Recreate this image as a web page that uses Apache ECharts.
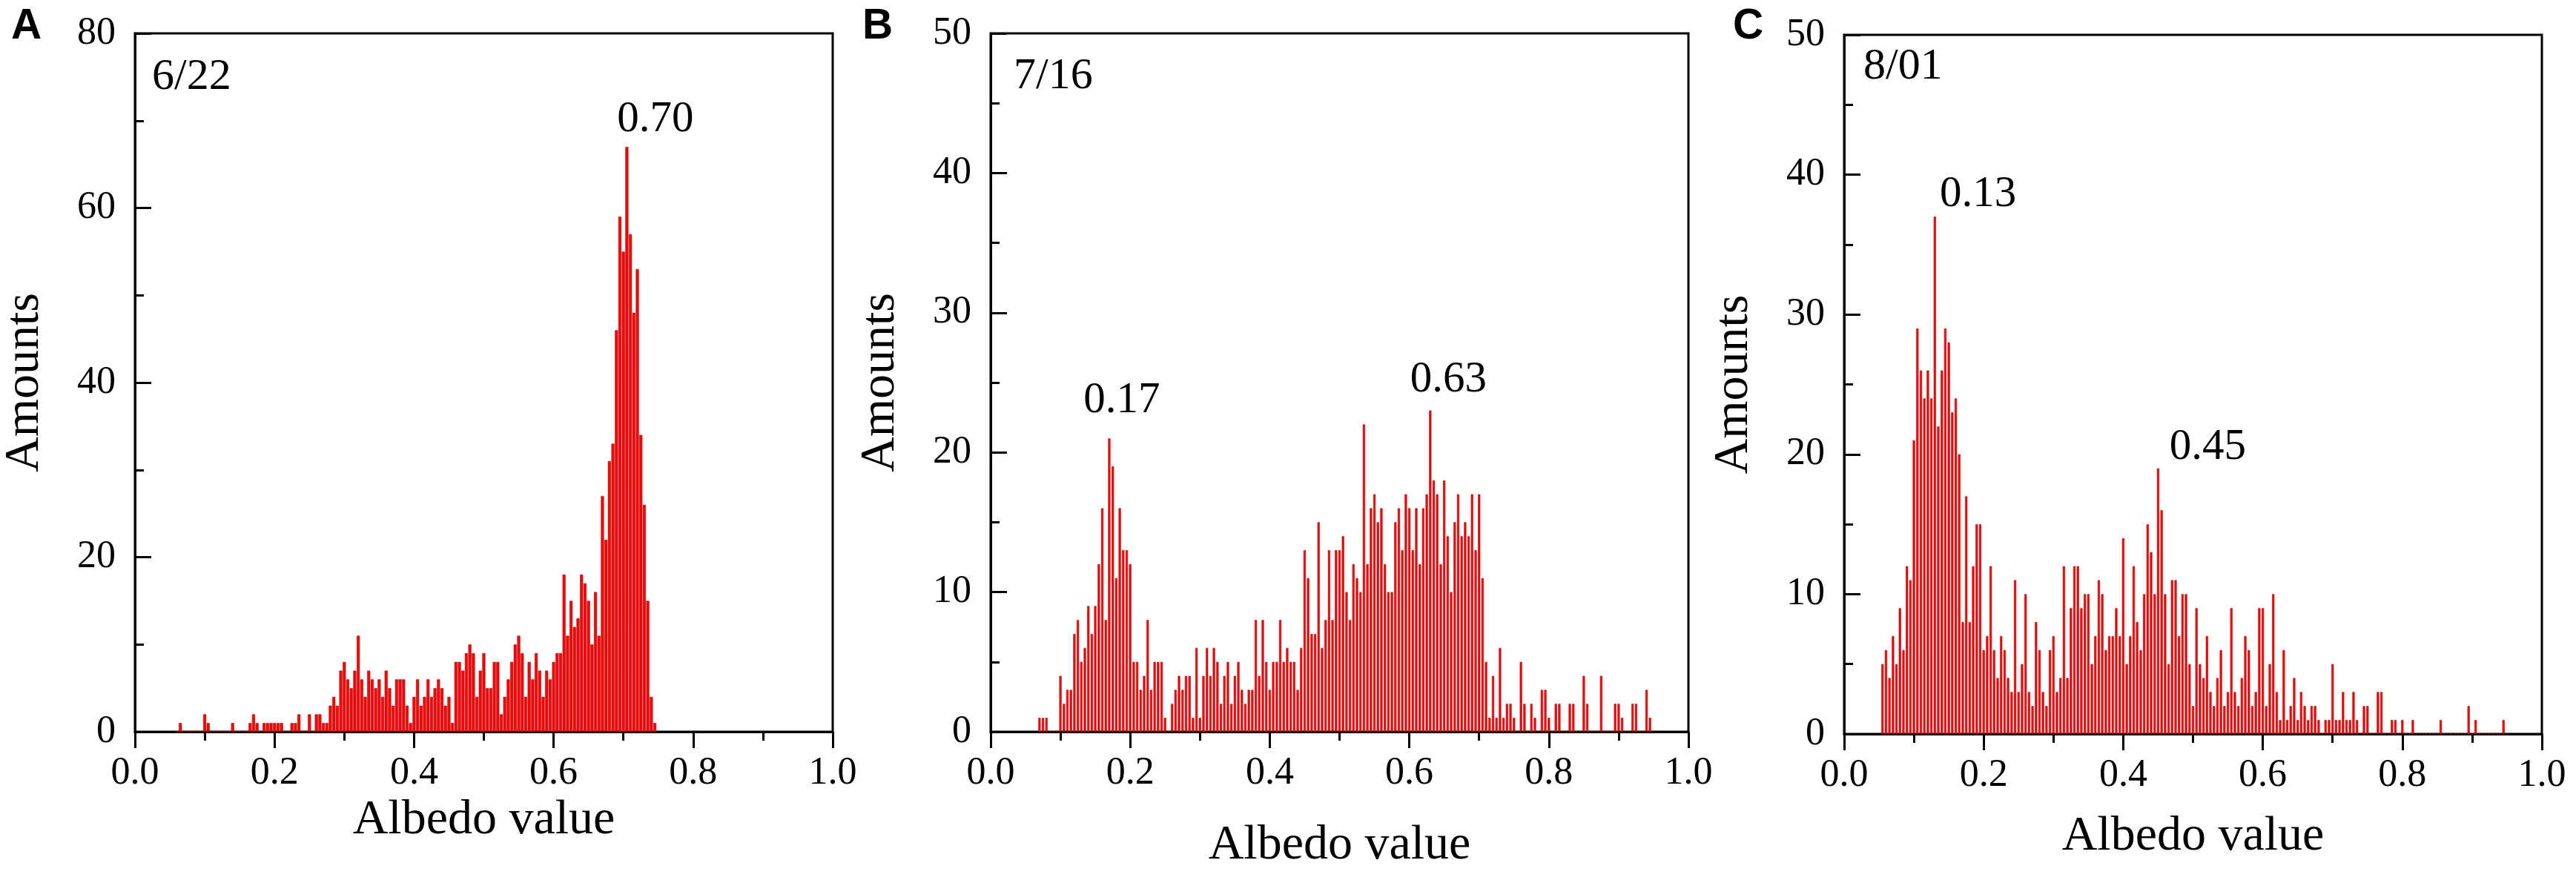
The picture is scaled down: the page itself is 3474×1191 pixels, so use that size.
<!DOCTYPE html>
<html>
<head>
<meta charset="utf-8">
<script src="https://cdn.jsdelivr.net/npm/echarts@6/dist/echarts.min.js"></script>
<style>
html, body { margin: 0; padding: 0; background: #fff; }
#main { width: 3474px; height: 1191px; }
</style>
</head>
<body>
<div id="main"></div>
<script>
var BIN = 0.005;

var startA = 0.060;
var countsA = [
    0, 1, 0, 0, 0, 0, 0, 0, 2, 1,
    0, 0, 0, 0, 0, 0, 1, 0, 0, 0,
    0, 1, 2, 1, 0, 1, 1, 1, 1, 1,
    1, 0, 0, 1, 1, 2, 0, 0, 2, 0,
    2, 2, 1, 1, 3, 4, 3, 7, 8, 6,
    5, 7, 11, 6, 4, 7, 6, 5, 6, 4,
    7, 5, 3, 6, 6, 6, 3, 1, 4, 6,
    3, 4, 6, 4, 5, 6, 5, 3, 4, 1,
    8, 8, 7, 9, 10, 9, 4, 7, 9, 5,
    5, 8, 8, 2, 4, 6, 8, 10, 11, 9,
    4, 8, 6, 9, 7, 4, 7, 6, 8, 9,
    9, 18, 11, 15, 12, 13, 18, 17, 15, 10,
    16, 11, 27, 22, 31, 33, 46, 59, 55, 67,
    57, 48, 53, 34, 26, 15, 4, 1
];

var startB = 0.070;
var countsB = [
    1, 1, 1, 0, 0, 0, 4, 2, 3, 3,
    7, 8, 5, 6, 9, 7, 9, 12, 16, 8,
    21, 19, 11, 16, 13, 13, 12, 5, 5, 3,
    4, 8, 3, 5, 5, 5, 1, 0, 2, 3,
    4, 3, 4, 4, 1, 6, 1, 4, 6, 4,
    6, 5, 2, 4, 5, 2, 4, 5, 3, 2,
    3, 3, 8, 4, 8, 5, 3, 5, 5, 8,
    5, 6, 5, 5, 3, 6, 13, 11, 7, 7,
    15, 6, 8, 13, 8, 13, 13, 14, 10, 8,
    12, 11, 10, 22, 12, 16, 17, 15, 16, 12,
    10, 10, 15, 16, 13, 17, 16, 13, 16, 12,
    16, 17, 23, 18, 17, 12, 18, 14, 10, 15,
    17, 14, 15, 14, 17, 13, 17, 11, 5, 1,
    4, 1, 6, 1, 2, 2, 1, 0, 5, 2,
    0, 2, 1, 0, 3, 3, 1, 0, 2, 2,
    0, 0, 2, 2, 0, 0, 4, 2, 0, 0,
    0, 4, 0, 0, 0, 2, 2, 1, 0, 0,
    2, 2, 0, 0, 3, 1
];

var startC = 0.055;
var countsC = [
    5, 6, 4, 7, 5, 9, 6, 12, 11, 21,
    29, 26, 24, 26, 24, 37, 22, 26, 29, 28,
    23, 24, 20, 8, 17, 8, 12, 15, 15, 6,
    7, 12, 6, 4, 7, 6, 4, 3, 11, 3,
    5, 10, 3, 2, 8, 6, 3, 2, 6, 7,
    3, 4, 12, 4, 9, 12, 12, 9, 10, 10,
    5, 7, 11, 10, 6, 7, 7, 9, 7, 14,
    5, 7, 12, 8, 6, 10, 15, 13, 10, 19,
    16, 10, 5, 11, 11, 7, 10, 10, 5, 2,
    9, 5, 4, 7, 3, 2, 4, 6, 2, 3,
    9, 3, 2, 4, 7, 6, 2, 3, 9, 9,
    2, 5, 10, 3, 1, 6, 1, 2, 4, 1,
    3, 2, 1, 2, 2, 1, 0, 1, 1, 5,
    1, 1, 3, 1, 1, 3, 1, 0, 2, 2,
    0, 0, 3, 3, 0, 0, 1, 1, 0, 1,
    0, 0, 1, 0, 0, 0, 0, 0, 0, 0,
    1, 0, 0, 0, 0, 0, 0, 0, 2, 0,
    1, 0, 0, 0, 0, 0, 0, 0, 1
];

var panelLetters = ['A', 'B', 'C'];
var dateLabels = ['6/22', '7/16', '8/01'];
var yMax = [80, 50, 50];
var yStep = [20, 10, 10];
// peak annotations: [albedo, amount, text]
var peaksA = [[0.746, 70.1, '0.70']];
var peaksB = [[0.188, 23.7, '0.17'], [0.656, 25.2, '0.63']];
var peaksC = [[0.192, 38.6, '0.13'], [0.521, 20.5, '0.45']];
// where the date text sits, in data units
var dateAt = [[0.0245, 75.0], [0.033, 46.9], [0.0276, 47.7]];

var SERIF = '"Liberation Serif", "Times New Roman", serif';

function toPairs(start, counts) {
    return counts.map(function (c, i) {
        return [+(start + i * BIN).toFixed(4), c];
    });
}

var grids = [
    { left: 182, top: 45, width: 941, height: 942 },
    { left: 1336, top: 45, width: 941, height: 942 },
    { left: 2487, top: 47, width: 941, height: 943 }
];
var xNameGap = [80, 121, 106];

var myChart = echarts.init(document.getElementById('main'), null, { renderer: 'canvas' });

var option = {
    backgroundColor: '#fff',
    animation: false,
    grid: grids.map(function (g) {
        return {
            left: g.left, top: g.top, width: g.width, height: g.height,
            show: true, borderColor: '#000', borderWidth: 3, backgroundColor: 'transparent'
        };
    }),
    xAxis: [0, 1, 2].map(function (i) {
        return {
            type: 'value',
            gridIndex: i,
            min: 0,
            max: 1,
            interval: 0.2,
            name: 'Albedo value',
            nameLocation: 'middle',
            nameGap: xNameGap[i],
            nameTextStyle: { fontFamily: SERIF, fontSize: 66, color: '#000' },
            axisLine: { show: true, onZero: false, lineStyle: { color: '#000', width: 3 } },
            axisTick: { show: true, inside: false, length: 22, lineStyle: { color: '#000', width: 3 } },
            minorTick: { show: true, splitNumber: 2, length: 12, lineStyle: { color: '#000', width: 3 } },
            axisLabel: {
                show: true, margin: 30, fontFamily: SERIF, fontSize: 52, color: '#000',
                formatter: function (v) { return v.toFixed(1); }
            },
            splitLine: { show: false },
            minorSplitLine: { show: false }
        };
    }),
    yAxis: [0, 1, 2].map(function (i) {
        return {
            type: 'value',
            gridIndex: i,
            min: 0,
            max: yMax[i],
            interval: yStep[i],
            name: 'Amounts',
            nameLocation: 'middle',
            nameGap: 115,
            nameTextStyle: { fontFamily: SERIF, fontSize: 66, color: '#000' },
            axisLine: { show: true, lineStyle: { color: '#000', width: 3 } },
            axisTick: { show: true, inside: true, length: 22, lineStyle: { color: '#000', width: 3 } },
            minorTick: { show: true, splitNumber: 2, length: 12, lineStyle: { color: '#000', width: 3 } },
            axisLabel: { show: true, margin: 26, fontFamily: SERIF, fontSize: 52, color: '#000' },
            splitLine: { show: false },
            minorSplitLine: { show: false }
        };
    }),
    series: [
        {
            type: 'bar', xAxisIndex: 0, yAxisIndex: 0,
            data: toPairs(startA, countsA),
            barWidth: 4.2,
            itemStyle: { color: '#ff0000', borderColor: '#a31515', borderWidth: 0.6 }
        },
        {
            type: 'bar', xAxisIndex: 1, yAxisIndex: 1,
            data: toPairs(startB, countsB),
            barWidth: 3.2,
            itemStyle: { color: '#ff0000', borderColor: '#a31515', borderWidth: 0.6 }
        },
        {
            type: 'bar', xAxisIndex: 2, yAxisIndex: 2,
            data: toPairs(startC, countsC),
            barWidth: 3.2,
            itemStyle: { color: '#ff0000', borderColor: '#a31515', borderWidth: 0.6 }
        }
    ]
};

myChart.setOption(option);

// text inside the plots, placed from data coordinates
var graphics = [];
var peakSets = [peaksA, peaksB, peaksC];
for (var i = 0; i < 3; i++) {
    var d = myChart.convertToPixel({ gridIndex: i }, dateAt[i]);
    graphics.push({
        type: 'text', x: d[0], y: d[1],
        style: { text: dateLabels[i], font: '60px ' + SERIF, fill: '#000', textAlign: 'left', textVerticalAlign: 'middle' }
    });
    peakSets[i].forEach(function (p) {
        var q = myChart.convertToPixel({ gridIndex: i }, [p[0], p[1]]);
        graphics.push({
            type: 'text', x: q[0], y: q[1],
            style: { text: p[2], font: '59px ' + SERIF, fill: '#000', textAlign: 'center', textVerticalAlign: 'middle' }
        });
    });
}
var letterX = [15, 1163, 2337];
for (var k = 0; k < 3; k++) {
    graphics.push({
        type: 'text', x: letterX[k], y: 36,
        style: { text: panelLetters[k], font: 'bold 57px "Liberation Sans", Arial, sans-serif', fill: '#000', textAlign: 'left', textVerticalAlign: 'middle' }
    });
}

myChart.setOption({ graphic: graphics });
</script>
</body>
</html>
